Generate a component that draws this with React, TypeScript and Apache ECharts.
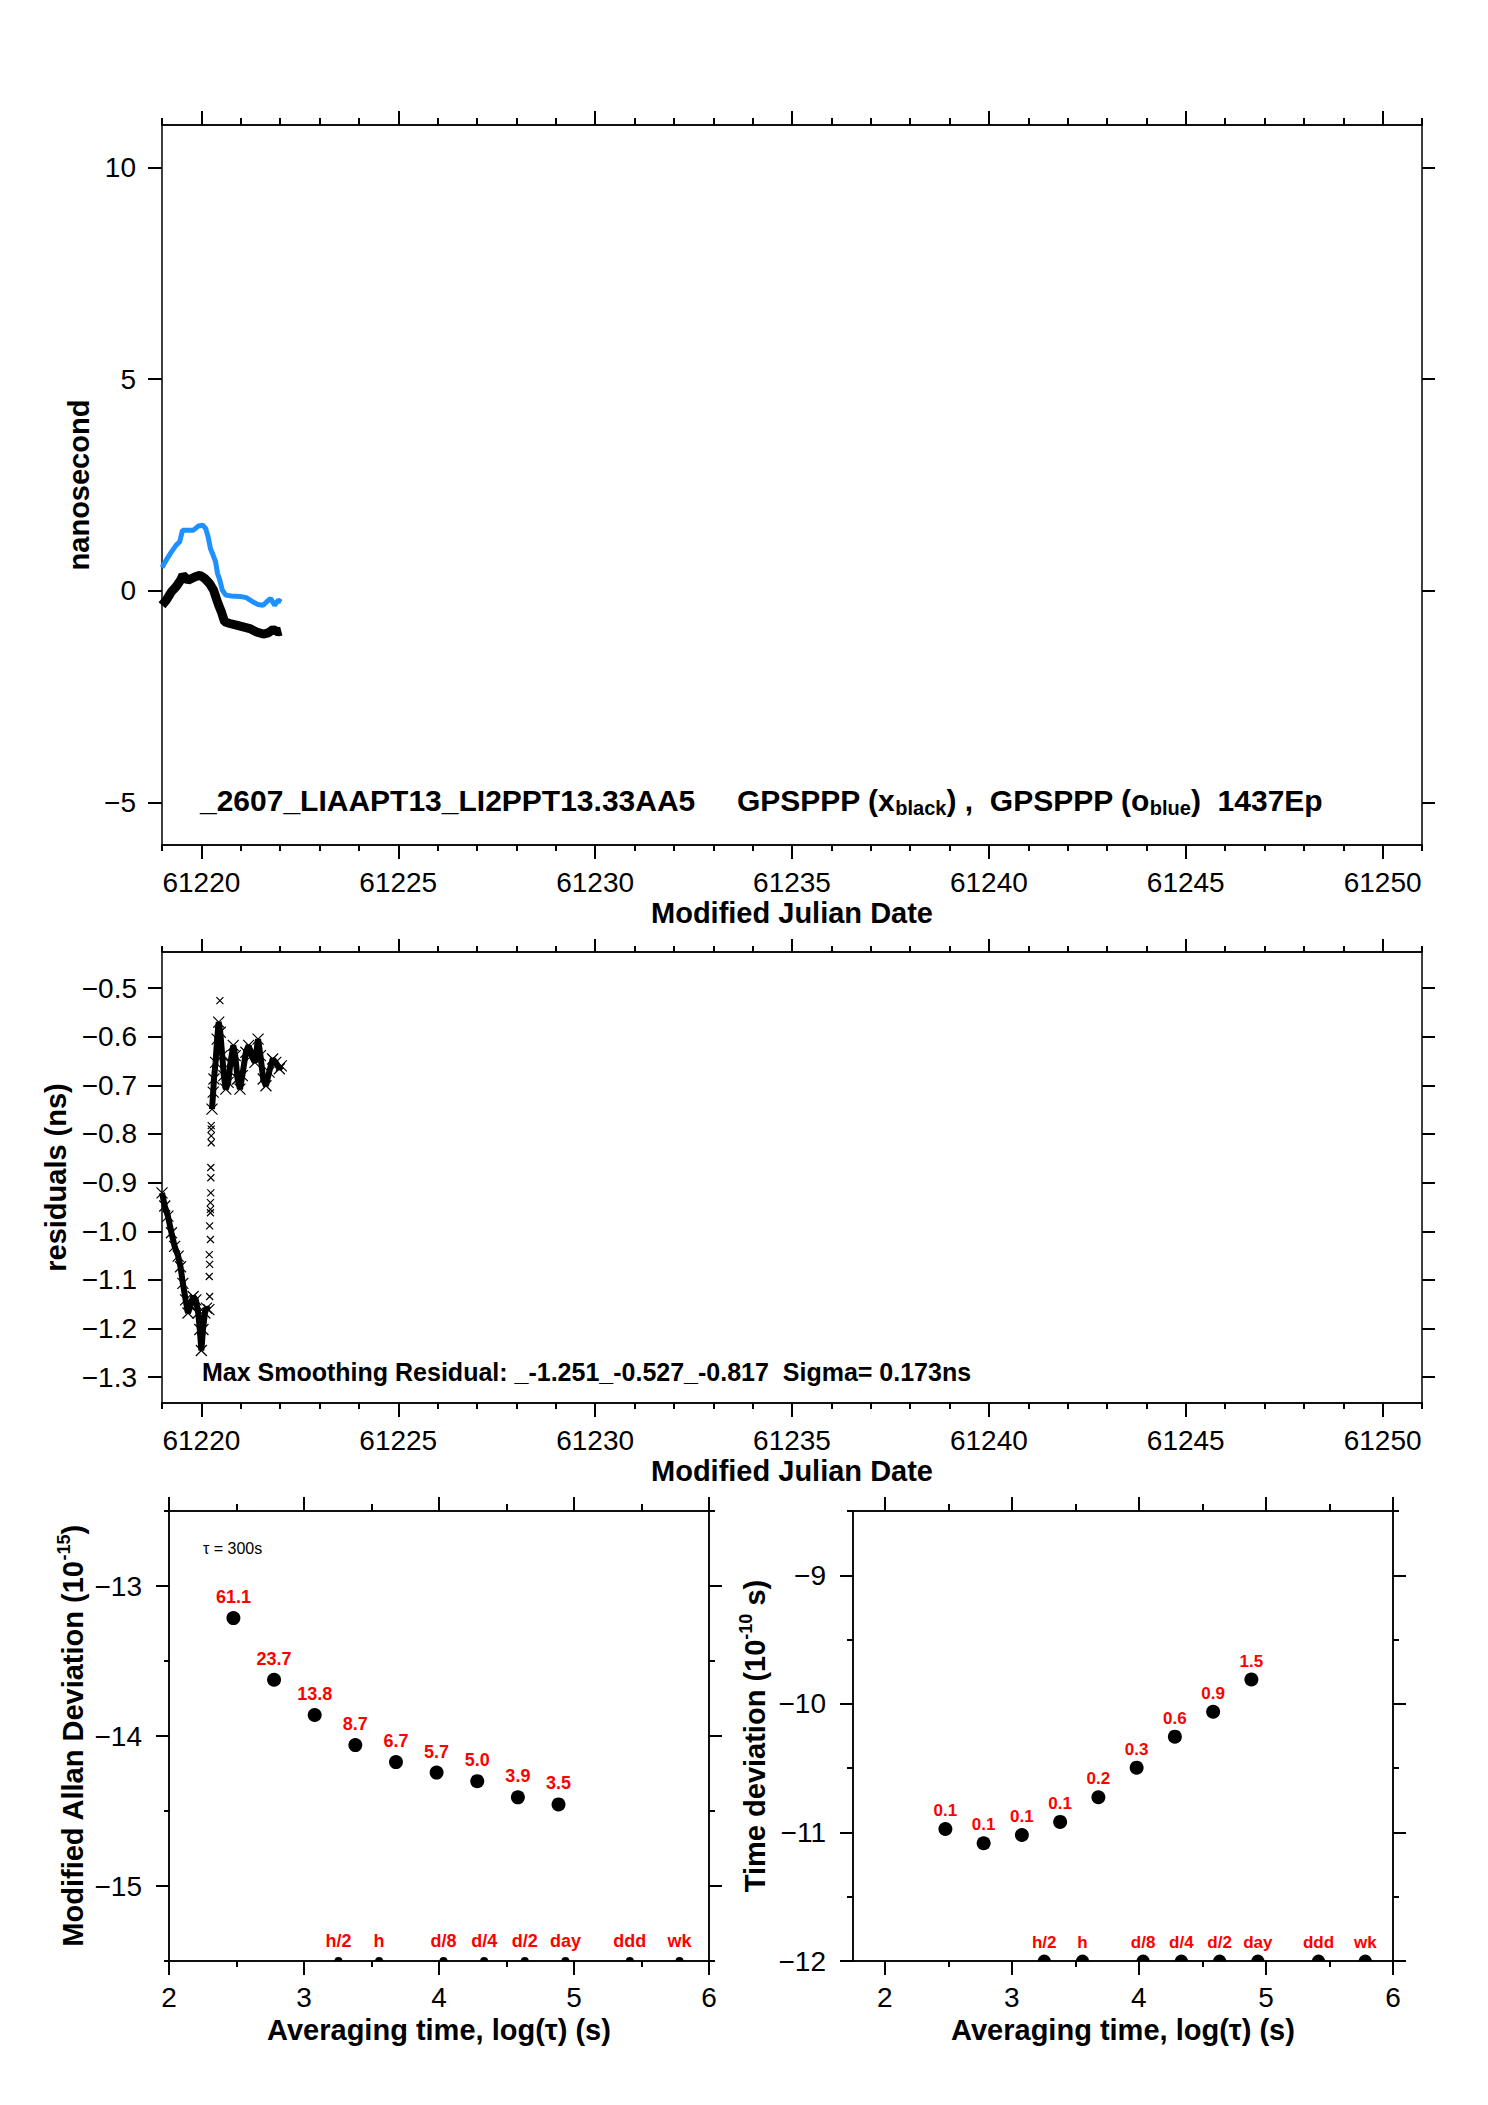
import React, { useEffect, useRef } from 'react';
import * as echarts from 'echarts';

const FONT = "'Liberation Sans', Arial, Helvetica, sans-serif";
const RED = '#ff0000';

// panel 1: clock offset (ns) against MJD
const blueMjd = [61219.0, 61219.11, 61219.24, 61219.36, 61219.45, 61219.52, 61219.62, 61219.79, 61219.92, 61220.04, 61220.11, 61220.17, 61220.23, 61220.3, 61220.36, 61220.41, 61220.47, 61220.53, 61220.62, 61220.76, 61220.98, 61221.14, 61221.31, 61221.44, 61221.57, 61221.7, 61221.76, 61221.86, 61221.95, 61222.03];
const blueNs = [0.55, 0.73, 0.92, 1.08, 1.16, 1.43, 1.43, 1.43, 1.53, 1.55, 1.47, 1.28, 1.0, 0.84, 0.69, 0.41, 0.25, 0.02, -0.1, -0.12, -0.13, -0.16, -0.26, -0.32, -0.34, -0.22, -0.18, -0.34, -0.22, -0.26];
const blackMjd = [61219.0, 61219.11, 61219.24, 61219.36, 61219.47, 61219.53, 61219.66, 61219.83, 61219.96, 61220.09, 61220.21, 61220.31, 61220.38, 61220.44, 61220.51, 61220.59, 61220.72, 61220.89, 61221.06, 61221.23, 61221.4, 61221.57, 61221.7, 61221.82, 61221.95, 61222.03];
const blackNs = [-0.34, -0.22, -0.02, 0.1, 0.25, 0.37, 0.25, 0.33, 0.37, 0.29, 0.17, 0.02, -0.18, -0.34, -0.5, -0.73, -0.77, -0.81, -0.85, -0.89, -0.97, -1.02, -0.99, -0.91, -0.97, -0.95];

// panel 2: smoothing residuals (ns)
const resEarlyMjd = [61219.0, 61219.07, 61219.15, 61219.24, 61219.32, 61219.41, 61219.47, 61219.53, 61219.6, 61219.66, 61219.72, 61219.79, 61219.86, 61219.92, 61219.96, 61220.0, 61220.04, 61220.09, 61220.13, 61220.19];
const resEarlyNs = [-0.921, -0.948, -0.969, -1.003, -1.031, -1.051, -1.073, -1.107, -1.141, -1.168, -1.154, -1.134, -1.141, -1.168, -1.202, -1.245, -1.202, -1.168, -1.158, -1.161];
const resJumpMjd = [61220.21, 61220.2, 61220.21, 61220.2, 61220.23, 61220.21, 61220.23, 61220.23, 61220.23, 61220.24, 61220.24, 61220.24, 61220.25, 61220.25, 61220.25, 61220.25, 61220.47];
const resJumpNs = [-1.134, -1.093, -1.068, -1.048, -1.017, -0.989, -0.962, -0.955, -0.941, -0.921, -0.89, -0.869, -0.818, -0.804, -0.79, -0.783, -0.526];
const resLateMjd = [61220.27, 61220.3, 61220.32, 61220.36, 61220.4, 61220.44, 61220.48, 61220.53, 61220.57, 61220.62, 61220.68, 61220.74, 61220.81, 61220.86, 61220.92, 61220.98, 61221.04, 61221.13, 61221.2, 61221.27, 61221.36, 61221.44, 61221.5, 61221.57, 61221.64, 61221.72, 61221.81, 61221.89, 61221.98, 61222.03];
const resLateNs = [-0.749, -0.714, -0.687, -0.653, -0.605, -0.57, -0.591, -0.639, -0.68, -0.708, -0.694, -0.653, -0.618, -0.639, -0.687, -0.708, -0.68, -0.632, -0.618, -0.639, -0.653, -0.605, -0.639, -0.687, -0.701, -0.673, -0.646, -0.653, -0.666, -0.66];

// panels 3 and 4: stability against averaging time
const tauSeconds = [300, 600, 1200, 2400, 4800, 9600, 19200, 38400, 76800];
const madev = [61.1, 23.7, 13.8, 8.7, 6.7, 5.7, 5.0, 3.9, 3.5]; // x 1e-15
const tdevLog = [-10.973, -11.084, -11.02, -10.918, -10.726, -10.496, -10.255, -10.061, -9.811];
const tdevLabels = ['0.1', '0.1', '0.1', '0.1', '0.2', '0.3', '0.6', '0.9', '1.5'];
const markerSeconds = [1800, 3600, 10800, 21600, 43200, 86400, 259200, 604800];
const markerNames = ['h/2', 'h', 'd/8', 'd/4', 'd/2', 'day', 'ddd', 'wk'];

// tick labels
const mjdTicks = [61220, 61225, 61230, 61235, 61240, 61245, 61250];
const mjdDays = Array.from({ length: 33 }, (_, i) => 61219 + i);
const nsTicks = [-5, 0, 5, 10];
const resTicks = [-1.3, -1.2, -1.1, -1.0, -0.9, -0.8, -0.7, -0.6, -0.5];
const logTauTicks = [2, 3, 4, 5, 6];
const logTauHalf = [2, 2.5, 3, 3.5, 4, 4.5, 5, 5.5, 6];
const madevTicks = [-15, -14, -13];
const madevHalf = [-15.5, -15, -14.5, -14, -13.5, -13, -12.5];
const tdevTicks = [-12, -11, -10, -9];
const tdevHalf = [-12, -11.5, -11, -10.5, -10, -9.5, -9, -8.5];

const minus = (s: string) => s.replace('-', '\u2212');

const zip = (xs: number[], ys: number[]) => xs.map((x, i) => [x, ys[i]]);

const nameStyle = { fontSize: 29, fontWeight: 'bold', fontFamily: FONT, color: '#000' };

const xAxes: any[] = [];
const yAxes: any[] = [];

function tickAxis(list: any[], grid: number, pos: string, min: number, max: number, ticks: number[], len: number, extra: any = {}) {
  list.push({
    type: 'value',
    gridIndex: grid,
    position: pos,
    min,
    max,
    axisLine: { show: true, onZero: false, lineStyle: { color: '#000', width: 1.5 } },
    axisTick: { show: true, customValues: ticks, length: len, lineStyle: { color: '#000', width: 2 } },
    axisLabel: { show: false },
    splitLine: { show: false },
    ...extra,
  });
  return list.length - 1;
}

function labels(values: number[], fmt: (v: number) => string, margin: number) {
  return {
    axisLabel: {
      show: true,
      customValues: values,
      formatter: fmt,
      margin,
      fontSize: 28,
      color: '#000',
      fontFamily: FONT,
    },
  };
}

function named(name: string, gap: number, rich?: any) {
  return {
    name,
    nameLocation: 'middle',
    nameGap: gap,
    nameTextStyle: rich ? { ...nameStyle, rich } : nameStyle,
  };
}

// panel 1 frame
const x0 = tickAxis(xAxes, 0, 'bottom', 61219, 61251, mjdTicks, 14, {
  ...labels(mjdTicks, (v) => String(v), 23),
  ...named('Modified Julian Date', 53),
});
tickAxis(xAxes, 0, 'bottom', 61219, 61251, mjdDays, 6);
tickAxis(xAxes, 0, 'top', 61219, 61251, mjdTicks, 14);
tickAxis(xAxes, 0, 'top', 61219, 61251, mjdDays, 7);
const y0 = tickAxis(yAxes, 0, 'left', -6, 11, nsTicks, 14, {
  ...labels(nsTicks, (v) => minus(String(v)), 26),
  ...named('nanosecond', 66),
});
tickAxis(yAxes, 0, 'right', -6, 11, nsTicks, 13);

// panel 2 frame
const x1 = tickAxis(xAxes, 1, 'bottom', 61219, 61251, mjdTicks, 14, {
  ...labels(mjdTicks, (v) => String(v), 23),
  ...named('Modified Julian Date', 53),
});
tickAxis(xAxes, 1, 'bottom', 61219, 61251, mjdDays, 6);
tickAxis(xAxes, 1, 'top', 61219, 61251, mjdTicks, 13);
tickAxis(xAxes, 1, 'top', 61219, 61251, mjdDays, 6);
const y1 = tickAxis(yAxes, 1, 'left', -1.353, -0.426, resTicks, 14, {
  ...labels(resTicks, (v) => minus(v.toFixed(1)), 25),
  ...named('residuals (ns)', 89),
});
tickAxis(yAxes, 1, 'right', -1.353, -0.426, resTicks, 13);

// panel 3 frame
const supRich = {
  a: { ...nameStyle, lineHeight: 36 },
  p: { fontSize: 18, fontWeight: 'bold', fontFamily: FONT, color: '#000', verticalAlign: 'top', lineHeight: 18 },
};
const x2 = tickAxis(xAxes, 2, 'bottom', 2, 6, logTauTicks, 14, {
  ...labels(logTauTicks, (v) => String(v), 22),
  ...named('Averaging time, log(\u03c4) (s)', 54),
});
tickAxis(xAxes, 2, 'bottom', 2, 6, logTauHalf, 6);
tickAxis(xAxes, 2, 'top', 2, 6, logTauTicks, 14);
tickAxis(xAxes, 2, 'top', 2, 6, logTauHalf, 7);
const y2 = tickAxis(yAxes, 2, 'left', -15.5, -12.5, madevTicks, 13, {
  ...labels(madevTicks, (v) => minus(String(v)), 27),
  ...named('{a|Modified Allan Deviation (10}{p|-15}{a|)}', 78, supRich),
});
tickAxis(yAxes, 2, 'left', -15.5, -12.5, madevHalf, 5);
tickAxis(yAxes, 2, 'right', -15.5, -12.5, madevTicks, 13);
tickAxis(yAxes, 2, 'right', -15.5, -12.5, madevHalf, 6);

// panel 4 frame
const x3 = tickAxis(xAxes, 3, 'bottom', 1.75, 6, logTauTicks, 14, {
  ...labels(logTauTicks, (v) => String(v), 22),
  ...named('Averaging time, log(\u03c4) (s)', 54),
});
tickAxis(xAxes, 3, 'bottom', 1.75, 6, logTauHalf, 6);
tickAxis(xAxes, 3, 'top', 1.75, 6, logTauTicks, 14);
tickAxis(xAxes, 3, 'top', 1.75, 6, logTauHalf, 7);
const y3 = tickAxis(yAxes, 3, 'left', -12, -8.5, tdevTicks, 13, {
  ...labels(tdevTicks, (v) => minus(String(v)), 27),
  ...named('{a|Time deviation (10}{p|-10}{a| s)}', 80, supRich),
});
tickAxis(yAxes, 3, 'left', -12, -8.5, tdevHalf, 6);
tickAxis(yAxes, 3, 'right', -12, -8.5, tdevTicks, 13);
tickAxis(yAxes, 3, 'right', -12, -8.5, tdevHalf, 6);

const crossSymbol = 'path://M0,0L10,10M10,0L0,10';
const capSymbol = 'path://M0,10A10,10,0,0,1,20,10Z';

const redLabel = (fontSize: number, distance: number, fmt: (p: any) => string) => ({
  show: true,
  position: 'top',
  distance,
  formatter: fmt,
  color: RED,
  fontWeight: 'bold',
  fontSize,
  fontFamily: FONT,
});

const App = () => {
  const chartRef = useRef<HTMLDivElement>(null);

  useEffect(() => {
    if (!chartRef.current) return;
    const chart = echarts.init(chartRef.current, undefined, { renderer: 'svg' });

    const crossStyle = { color: 'none', borderColor: '#000', borderWidth: 1.2, opacity: 1 };
    const dotStyle = { color: '#000', opacity: 1 };

    const option = {
      animation: false,
      backgroundColor: '#fff',
      textStyle: { fontFamily: FONT },
      grid: [
        { left: 162, top: 125, width: 1260, height: 720 },
        { left: 162, top: 952, width: 1260, height: 451 },
        { left: 169, top: 1511, width: 540, height: 450 },
        { left: 853, top: 1511, width: 540, height: 450 },
      ],
      xAxis: xAxes,
      yAxis: yAxes,
      series: [
        {
          type: 'line',
          xAxisIndex: x0,
          yAxisIndex: y0,
          data: zip(blueMjd, blueNs),
          symbol: 'none',
          lineStyle: { color: '#1e90ff', width: 5 },
          z: 3,
        },
        {
          type: 'line',
          xAxisIndex: x0,
          yAxisIndex: y0,
          data: zip(blackMjd, blackNs),
          symbol: 'none',
          lineStyle: { color: '#000', width: 9 },
          z: 4,
        },
        {
          type: 'line',
          xAxisIndex: x1,
          yAxisIndex: y1,
          data: zip(resEarlyMjd, resEarlyNs),
          symbol: crossSymbol,
          symbolSize: 11,
          itemStyle: crossStyle,
          lineStyle: { color: '#000', width: 6 },
        },
        {
          type: 'line',
          xAxisIndex: x1,
          yAxisIndex: y1,
          data: zip(resLateMjd, resLateNs),
          symbol: crossSymbol,
          symbolSize: 11,
          itemStyle: crossStyle,
          lineStyle: { color: '#000', width: 6 },
        },
        {
          type: 'scatter',
          xAxisIndex: x1,
          yAxisIndex: y1,
          data: zip(resJumpMjd, resJumpNs),
          symbol: crossSymbol,
          symbolSize: 7,
          itemStyle: crossStyle,
        },
        {
          type: 'scatter',
          xAxisIndex: x2,
          yAxisIndex: y2,
          data: tauSeconds.map((t, i) => [Math.log10(t), Math.log10(madev[i]) - 15]),
          symbolSize: 14,
          itemStyle: dotStyle,
          label: redLabel(18, 5, (p: any) => madev[p.dataIndex].toFixed(1)),
        },
        {
          type: 'scatter',
          xAxisIndex: x2,
          yAxisIndex: y2,
          data: markerSeconds.map((s) => [Math.log10(s), -15.5]),
          symbol: capSymbol,
          symbolSize: [8, 4],
          symbolOffset: [0, -2],
          itemStyle: dotStyle,
          label: redLabel(18, 7, (p: any) => markerNames[p.dataIndex]),
        },
        {
          type: 'scatter',
          xAxisIndex: x3,
          yAxisIndex: y3,
          data: tauSeconds.map((t, i) => [Math.log10(t), tdevLog[i]]),
          symbolSize: 14,
          itemStyle: dotStyle,
          label: redLabel(17, 3, (p: any) => tdevLabels[p.dataIndex]),
        },
        {
          type: 'scatter',
          xAxisIndex: x3,
          yAxisIndex: y3,
          data: markerSeconds.map((s) => [Math.log10(s), -12]),
          symbol: capSymbol,
          symbolSize: [13, 6.5],
          symbolOffset: [0, -3.25],
          itemStyle: dotStyle,
          label: redLabel(17, 4, (p: any) => markerNames[p.dataIndex]),
        },
      ],
      graphic: [
        {
          type: 'text',
          x: 200,
          y: 800,
          z: 10,
          style: {
            text: '{b|_2607_LIAAPT13_LI2PPT13.33AA5     GPSPPP (x}{s|black}{b|) ,  GPSPPP (o}{s|blue}{b|)  1437Ep}',
            verticalAlign: 'middle',
            fontSize: 30,
            fontWeight: 'bold',
            fontFamily: FONT,
            fill: '#000',
            rich: {
              b: { fontSize: 30, fontWeight: 'bold', fontFamily: FONT, fill: '#000', lineHeight: 36 },
              s: { fontSize: 20, fontWeight: 'bold', fontFamily: FONT, fill: '#000', lineHeight: 21, verticalAlign: 'bottom' },
            },
          },
        },
        {
          type: 'text',
          x: 202,
          y: 1372,
          z: 10,
          style: {
            text: 'Max Smoothing Residual: _-1.251_-0.527_-0.817  Sigma= 0.173ns',
            verticalAlign: 'middle',
            fontSize: 25,
            fontWeight: 'bold',
            fontFamily: FONT,
            fill: '#000',
          },
        },
        {
          type: 'text',
          x: 203,
          y: 1548,
          z: 10,
          style: {
            text: '\u03c4 = 300s',
            verticalAlign: 'middle',
            fontSize: 16,
            fontFamily: FONT,
            fill: '#000',
          },
        },
      ],
    };

    chart.setOption(option as any);

    return () => {
      chart.dispose();
    };
  }, []);

  return (
    <div
      ref={chartRef}
      style={{ position: 'absolute', left: 0, top: 0, width: '1488px', height: '2105px', background: '#fff' }}
    />
  );
};

export default App;
